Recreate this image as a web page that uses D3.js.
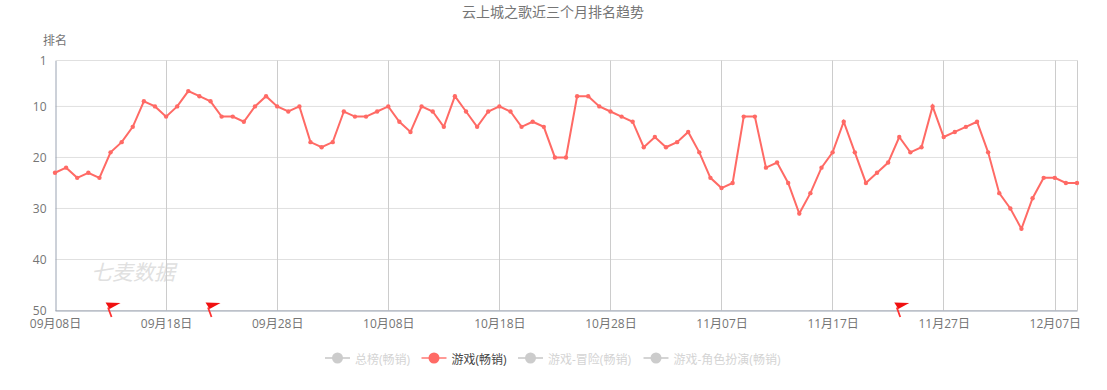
<!DOCTYPE html>
<html>
<head>
<meta charset="utf-8">
<script src="https://cdn.jsdelivr.net/npm/d3@7"></script>
<style>
  html, body { margin: 0; background: #fff; overflow: hidden; }
  svg { display: block; }
  text { font-family: "Open Sans", "Noto Sans CJK SC", sans-serif; }
</style>
</head>
<body>
<div id="chart"></div>
<script>
// ── data ──────────────────────────────────────────────────────────
const START_DATE = "2023-09-08";
const RANKS = [
  23, 22, 24, 23, 24, 19, 17, 14, 9, 10,
  12, 10, 7, 8, 9, 12, 12, 13, 10, 8,
  10, 11, 10, 17, 18, 17, 11, 12, 12, 11,
  10, 13, 15, 10, 11, 14, 8, 11, 14, 11,
  10, 11, 14, 13, 14, 20, 20, 8, 8, 10,
  11, 12, 13, 18, 16, 18, 17, 15, 19, 24,
  26, 25, 12, 12, 22, 21, 25, 31, 27, 22,
  19, 13, 19, 25, 23, 21, 16, 19, 18, 10,
  16, 15, 14, 13, 19, 27, 30, 34, 28, 24,
  24, 25, 25
];
const Y_TICKS = [1, 10, 20, 30, 40, 50];
const LEGEND_NAMES = ["总榜(畅销)", "游戏(畅销)", "游戏-冒险(畅销)", "游戏-角色扮演(畅销)"];
const LEGEND_ACTIVE = ["游戏(畅销)"];
const LEGEND_X = [325, 421.5, 518, 643.5];
const FLAG_INDEXES = [5, 14, 76];

const W = 1107, H = 390;
const LINE_COLOR = "#ff6a65";
const TEXT_COLOR = "#757575";

const parse = d3.utcParse("%Y-%m-%d");
const dates = RANKS.map((_, i) => d3.utcDay.offset(parse(START_DATE), i));
const points = RANKS.map((r, i) => ({ date: dates[i], rank: r }));

const svg = d3.select("#chart").append("svg").attr("width", W).attr("height", H);

const x = d3.scaleUtc().domain(d3.extent(dates)).range([55, 1077]);
const y = d3.scaleLinear().domain([1, 50]).range([60.5, 310.5]);
const crisp = v => Math.floor(v + 0.25) + 0.5;

// ── title + axis name ─────────────────────────────────────────────
svg.append("text")
  .attr("x", 553).attr("y", 17)
  .attr("text-anchor", "middle")
  .style("font-size", "14px")
  .style("fill", TEXT_COLOR)
  .text("云上城之歌近三个月排名趋势");

svg.append("text")
  .attr("x", 55).attr("y", 44.5)
  .attr("text-anchor", "middle")
  .style("font-size", "12px")
  .style("fill", TEXT_COLOR)
  .text("排名");

// ── watermark ─────────────────────────────────────────────────────
svg.append("text")
  .attr("x", 91).attr("y", 280)
  .style("font-size", "21px")
  .style("font-style", "italic")
  .style("fill", "#e0e0e0")
  .text("七麦数据");

// ── grid ──────────────────────────────────────────────────────────
const xTicks = dates.filter((_, i) => i % 10 === 0);

const grid = svg.append("g");
grid.selectAll("line.h")
  .data(Y_TICKS)
  .join("line")
  .attr("class", "h")
  .attr("x1", 55.5).attr("x2", 1077.5)
  .attr("y1", d => y(d)).attr("y2", d => y(d))
  .attr("stroke", "#e0e0e0");
grid.selectAll("line.v")
  .data(xTicks.slice(1).concat([x.domain()[1]]))
  .join("line")
  .attr("class", "v")
  .attr("x1", d => crisp(x(d))).attr("x2", d => crisp(x(d)))
  .attr("y1", 60.5).attr("y2", 310.5)
  .attr("stroke", "#ccc");

// ── axes ──────────────────────────────────────────────────────────
const yAxis = d3.axisLeft(y)
  .tickValues(Y_TICKS)
  .tickSize(0)
  .tickPadding(9);

const gy = svg.append("g").attr("transform", "translate(55.5,0)").call(yAxis);
gy.selectAll("text").style("font-size", "12px").style("font-family", null).style("fill", TEXT_COLOR);
gy.select(".domain").attr("stroke", "#9aa3b2");

const xAxis = d3.axisBottom(x)
  .tickValues(xTicks)
  .tickSize(0)
  .tickPadding(9)
  .tickFormat(d3.utcFormat("%m月%d日"));

const gx = svg.append("g").attr("transform", "translate(0,310.5)").call(xAxis);
gx.selectAll("text").style("font-size", "12px").style("fill", TEXT_COLOR);
gx.select(".domain").attr("stroke", "#9aa3b2");

// ── series ────────────────────────────────────────────────────────
const line = d3.line().x(d => x(d.date)).y(d => y(d.rank));

svg.append("path")
  .datum(points)
  .attr("d", line)
  .attr("fill", "none")
  .attr("stroke", LINE_COLOR)
  .attr("stroke-width", 2);

svg.selectAll("circle.pt")
  .data(points)
  .join("circle")
  .attr("class", "pt")
  .attr("cx", d => x(d.date))
  .attr("cy", d => y(d.rank))
  .attr("r", 2.2)
  .attr("fill", LINE_COLOR);

// ── event flags along the baseline ────────────────────────────────
const flags = svg.selectAll("g.flag")
  .data(FLAG_INDEXES)
  .join("g")
  .attr("class", "flag")
  .attr("transform", i => `translate(${x(dates[i])},${y(50)})`);

flags.append("line")
  .attr("x1", -2.5).attr("y1", -3)
  .attr("x2", 1).attr("y2", 6.5)
  .attr("stroke", "#f33")
  .attr("stroke-width", 1.8);
flags.append("path")
  .attr("d", "M-5,-8 L10,-7.5 L-1,-1.5 Z")
  .attr("fill", "#f01010");

// ── legend ────────────────────────────────────────────────────────
const legend = svg.selectAll("g.legend")
  .data(LEGEND_NAMES)
  .join("g")
  .attr("class", "legend")
  .attr("transform", (d, i) => `translate(${LEGEND_X[i]},358)`);

const isOn = d => LEGEND_ACTIVE.includes(d);

legend.append("line")
  .attr("x1", 0).attr("x2", 25)
  .attr("stroke", d => (isOn(d) ? "#ff9a96" : "#d4d4d4"))
  .attr("stroke-width", 2);
legend.append("circle")
  .attr("cx", 12.5)
  .attr("r", 5.5)
  .attr("fill", d => (isOn(d) ? LINE_COLOR : "#ccc"));
legend.append("text")
  .attr("x", 30).attr("y", 5.5)
  .style("font-size", "12px")
  .style("fill", d => (isOn(d) ? "#444" : "#d4d4d4"))
  .text(d => d);
</script>
</body>
</html>
